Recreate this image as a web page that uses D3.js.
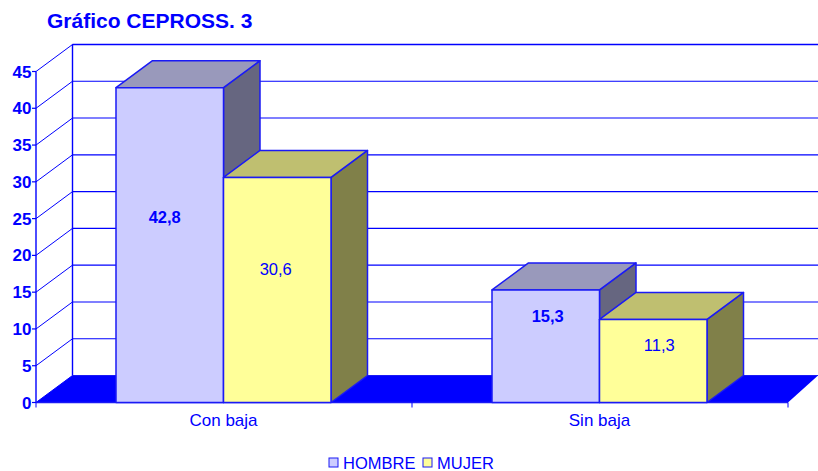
<!DOCTYPE html>
<html><head><meta charset="utf-8">
<script src="https://cdn.jsdelivr.net/npm/d3@7"></script>
<style>html,body{margin:0;padding:0;background:#fff}svg{display:block}text{font-family:"Liberation Sans",Arial,sans-serif;fill:#0000ff}</style>
</head><body><svg id="c" width="818" height="471"></svg>
<script>
const title = "Gráfico CEPROSS. 3";
const categories = ["Con baja", "Sin baja"];
const seriesNames = ["HOMBRE", "MUJER"];
const hombre = [42.8, 15.3];
const mujer = [30.6, 11.3];
const labelsBold = [true, false];
const yTicks = [0,5,10,15,20,25,30,35,40,45];
const fills = {HOMBRE:["#ccccff","#9999bb","#666680"], MUJER:["#ffff99","#bfbf70","#808049"]};
const blue = "#0000ff", lineBlue="#1a1af5";
const dx = 36.5, dy = -27;

const svg = d3.select("#c");
const y = d3.scaleLinear().domain([0,45]).range([402.5,71.5]);
const x = d3.scaleBand().domain(categories).range([36,788]);
const inner = d3.scaleBand().domain(seriesNames).range([80,295]);
const poly = pts => pts.map(p=>p.join(",")).join(" ");
const x0 = x.range()[0], x1 = x.range()[1];

svg.append("polygon").attr("points",poly([[x0,y(0)],[x0+dx,y(0)+dy],[x1+30,y(0)+dy],[x1,y(0)]])).attr("fill",blue);
svg.selectAll(".grid").data(yTicks.filter(d=>d>0)).join("line")
  .attr("x1",x0+dx).attr("x2",818).attr("y1",d=>y(d)+dy).attr("y2",d=>y(d)+dy)
  .attr("stroke",blue).attr("stroke-width",1.1);
svg.append("line").attr("x1",x0+dx).attr("x2",818).attr("y1",y(45)+dy).attr("y2",y(45)+dy).attr("stroke",blue).attr("stroke-width",1.5);
svg.append("line").attr("x1",x0+dx).attr("x2",818).attr("y1",y(0)+dy).attr("y2",y(0)+dy).attr("stroke",lineBlue).attr("stroke-width",1.2);
svg.selectAll(".side").data(yTicks).join("line")
  .attr("x1",x0).attr("x2",x0+dx).attr("y1",d=>y(d)).attr("y2",d=>y(d)+dy)
  .attr("stroke",blue).attr("stroke-width",1);
svg.append("line").attr("x1",x0+dx).attr("x2",x0+dx).attr("y1",y(0)+dy).attr("y2",y(45)+dy).attr("stroke",blue).attr("stroke-width",1.4);
svg.append("line").attr("x1",x0).attr("x2",x0).attr("y1",y(0)).attr("y2",y(45)).attr("stroke",blue).attr("stroke-width",1.4);
svg.append("line").attr("x1",x0).attr("x2",x1).attr("y1",y(0)).attr("y2",y(0)).attr("stroke",lineBlue).attr("stroke-width",1.4);
svg.selectAll(".yt").data(yTicks).join("line")
  .attr("x1",x0-4).attr("x2",x0).attr("y1",d=>y(d)).attr("y2",d=>y(d)).attr("stroke",blue).attr("stroke-width",1.2);
svg.selectAll(".xt").data([x0,x0+x.bandwidth(),x1]).join("line")
  .attr("x1",d=>d).attr("x2",d=>d).attr("y1",y(0)).attr("y2",y(0)+5).attr("stroke",blue);
svg.selectAll(".yl").data(yTicks).join("text")
  .attr("x",x0-4.5).attr("y",d=>y(d)+6).attr("text-anchor","end")
  .attr("font-size",17).attr("font-weight","bold").text(d=>d);
svg.selectAll(".xl").data(categories).join("text")
  .attr("x",d=>x(d)+x.bandwidth()/2-0.5).attr("y",426).attr("text-anchor","middle")
  .attr("font-size",17).text(d=>d);

const series = {HOMBRE:hombre, MUJER:mujer};
categories.forEach((c,i)=>{
  seriesNames.forEach(s=>{
    const v = series[s][i];
    const l = x(c)+inner(s), r = l+inner.bandwidth(), t = y(v), b = y(0);
    const g = svg.append("g").attr("stroke",lineBlue).attr("stroke-width",1.5).attr("stroke-linejoin","round");
    g.append("polygon").attr("points",poly([[r,b],[r+dx,b+dy],[r+dx,t+dy],[r,t]])).attr("fill",fills[s][2]);
    g.append("polygon").attr("points",poly([[l,t],[l+dx,t+dy],[r+dx,t+dy],[r,t]])).attr("fill",fills[s][1]);
    g.append("rect").attr("x",l).attr("y",t).attr("width",r-l).attr("height",b-t).attr("fill",fills[s][0]);
  });
});
const labelY = {HOMBRE:[223,322], MUJER:[275,351]};
const labelDx = {HOMBRE:[-5,2], MUJER:[-1.5,6]};
categories.forEach((c,i)=>{
  seriesNames.forEach((s,k)=>{
    svg.append("text")
      .attr("x",x(c)+inner(s)+inner.bandwidth()/2+labelDx[s][i])
      .attr("y",labelY[s][i]).attr("text-anchor","middle")
      .attr("font-size",16.5).attr("font-weight",labelsBold[k]?"bold":"normal")
      .text(String(series[s][i]).replace(".",","));
  });
});
svg.append("text").attr("x",47).attr("y",28).attr("font-size",21).attr("font-weight","bold").text(title);
const legendX = {HOMBRE:329, MUJER:423};
seriesNames.forEach(s=>{
  svg.append("rect").attr("x",legendX[s]).attr("y",458).attr("width",9).attr("height",9)
    .attr("fill",fills[s][0]).attr("stroke",lineBlue);
  svg.append("text").attr("x",legendX[s]+14).attr("y",468.5).attr("font-size",16.5).text(s);
});
</script></body></html>
